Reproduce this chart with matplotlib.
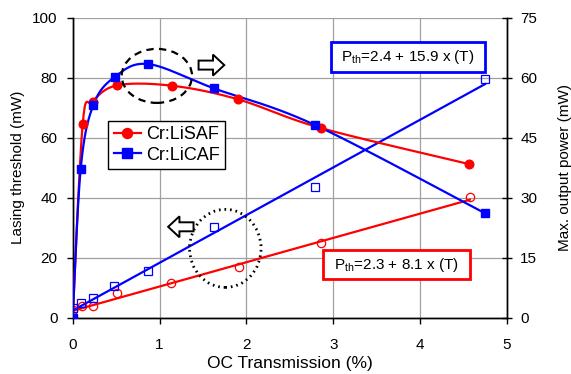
import numpy as np
import matplotlib
matplotlib.use("Agg")
import matplotlib.pyplot as plt
from matplotlib.patches import Ellipse, Rectangle, FancyArrow

plt.rcParams['font.family'] = ['Liberation Sans', 'DejaVu Sans']
plt.rcParams['mathtext.fontset'] = 'custom'
plt.rcParams['mathtext.rm'] = 'Liberation Sans'
plt.rcParams['mathtext.it'] = 'Liberation Sans'

# ---- data ----
# Max output power (right axis, mW)
lisaf_T = [0.0, 0.115, 0.23, 0.514, 1.142, 1.903, 2.86, 4.563]
lisaf_P = [0.0, 48.4, 54.0, 58.1, 58.0, 54.6, 47.4, 38.4]
licaf_T = [0.0, 0.092, 0.238, 0.488, 0.872, 1.63, 2.787, 4.747]
licaf_P = [0.0, 37.2, 53.2, 60.25, 63.4, 57.3, 48.2, 26.1]
# Lasing threshold (left axis, mW)
lisaf_thT = [0.0, 0.104, 0.23, 0.514, 1.134, 1.91, 2.86, 4.571]
lisaf_th = [2.5, 3.9, 4.0, 8.1, 11.5, 17.0, 24.8, 40.3]
licaf_thT = [0.0, 0.092, 0.238, 0.48, 0.872, 1.63, 2.787, 4.747]
licaf_th = [3.3, 5.0, 6.5, 10.6, 15.6, 30.1, 43.7, 79.6]
# linear fit coefficients (intercept, slope) as annotated
lisaf_fit = (2.3, 8.1)
licaf_fit = (2.4, 15.9)

RED = '#FF0000'
BLUE = '#0000FF'

fig = plt.figure(figsize=(5.71, 3.74), dpi=100)
ax = fig.add_axes([0.1273, 0.1505, 0.7607, 0.8022])
ax2 = ax.twinx()

ax.set_xlim(0, 5)
ax.set_ylim(0, 100)
ax2.set_ylim(0, 75)
ax.set_xticks(range(6))
ax.set_yticks(range(0, 101, 20))
ax2.set_yticks(range(0, 76, 15))
ax.grid(True, color='#a0a0a0', lw=0.9)
ax.set_axisbelow(True)

for a in (ax, ax2):
    for s in a.spines.values():
        s.set_linewidth(1.0)
    a.tick_params(labelsize=11, width=1.0)
ax2.spines['top'].set_visible(False)
ax.spines['top'].set_visible(False)
ax.tick_params(axis='y', length=4, pad=7)
ax.tick_params(axis='x', length=4.5, pad=10)
ax2.tick_params(axis='y', direction='inout', length=7, pad=6)
ax.set_xlabel('OC Transmission (%)', fontsize=12.5, labelpad=3)
ax.set_ylabel('Lasing threshold (mW)', fontsize=11, labelpad=5)
ax2.set_ylabel('Max. output power (mW)', fontsize=11, labelpad=15)

# threshold data + linear fits (left axis)
for T, th, fit, T_end, col, mk, ms in [
        (lisaf_thT, lisaf_th, lisaf_fit, lisaf_thT[-1], RED, 'o', 6),
        (licaf_thT, licaf_th, licaf_fit, licaf_thT[-1], BLUE, 's', 5.4)]:
    xs = np.array([0.0, T_end])
    ax.plot(xs, fit[0] + fit[1] * xs, color=col, lw=1.6, zorder=3)
    ax.plot(T, th, ls='none', marker=mk, ms=ms, mfc='none', mec=col, mew=0.9, zorder=4)


def excel_smooth(a, xs, ys, n=30):
    pts = a.transData.transform(np.column_stack([xs, ys]))
    P = np.vstack([pts[0], pts, pts[-1]])
    out = []
    for i in range(1, len(P) - 2):
        p0, p1, p2, p3 = P[i - 1], P[i], P[i + 1], P[i + 2]
        c1 = p1 + (p2 - p0) / 6.0
        c2 = p2 - (p3 - p1) / 6.0
        t = np.linspace(0, 1, n)[:, None]
        seg = ((1 - t) ** 3) * p1 + 3 * ((1 - t) ** 2) * t * c1 + 3 * (1 - t) * t ** 2 * c2 + t ** 3 * p2
        out.append(seg if i == 1 else seg[1:])
    seg = np.vstack(out)
    return a.transData.inverted().transform(seg)

fig.canvas.draw()
for T, P, col, mk, ms, lab in [(lisaf_T, lisaf_P, RED, 'o', 6.2, 'Cr:LiSAF'),
                               (licaf_T, licaf_P, BLUE, 's', 6.0, 'Cr:LiCAF')]:
    c = excel_smooth(ax2, T, P)
    ax2.plot(c[:, 0], c[:, 1], color=col, lw=1.6, zorder=3)
    ax2.plot(T, P, ls='none', marker=mk, ms=ms, color=col, zorder=4)
    ax2.plot([], [], color=col, lw=1.6, marker=mk, ms=ms + 1, label=lab)

leg = ax2.legend(loc='upper left', bbox_to_anchor=(0.082, 0.657), fontsize=13,
                 frameon=True, fancybox=False, edgecolor='black', framealpha=1,
                 handlelength=1.5, borderpad=0.3, labelspacing=0.2, handletextpad=0.3,
                 borderaxespad=0)
leg.get_frame().set_linewidth(1.0)

T1 = ax.transData
# dashed ellipse + right arrow
ax2.add_patch(Ellipse((0.969, 80.6), 0.81, 18, fill=False, ec='black', lw=1.6,
                      ls=(0, (3.3, 2.4)), transform=T1, zorder=5))
ax2.add_patch(FancyArrow(1.449, 84.2, 0.296, 0, width=3.0, head_width=7.0,
                         head_length=0.13, length_includes_head=True,
                         fc='white', ec='black', lw=1.4, transform=T1, zorder=5))
# dotted ellipse + left arrow
ax2.add_patch(Ellipse((1.757, 23.1), 0.823, 26, fill=False, ec='black', lw=2.0,
                      ls=(0, (0.6, 1.4)), transform=T1, zorder=5))
ax2.add_patch(FancyArrow(1.391, 30.3, -0.292, 0, width=3.0, head_width=7.0,
                         head_length=0.13, length_includes_head=True,
                         fc='white', ec='black', lw=1.4, transform=T1, zorder=5))

# annotation boxes
ax2.add_patch(Rectangle((2.968, 82.0), 4.747 - 2.968, 10.0, fill=True, fc='white',
                        ec=BLUE, lw=2.0, zorder=6, clip_on=False, transform=T1))
ax2.text(3.857, 86.8, r'P$_{\mathrm{th}}$=2.4 + 15.9 x (T)', ha='center', va='center',
         fontsize=11, zorder=7, transform=T1)
ax2.add_patch(Rectangle((2.879, 12.8), 4.571 - 2.879, 9.8, fill=True, fc='white',
                        ec=RED, lw=2.0, zorder=6, clip_on=False, transform=T1))
ax2.text(3.725, 17.5, r'P$_{\mathrm{th}}$=2.3 + 8.1 x (T)', ha='center', va='center',
         fontsize=11, zorder=7, transform=T1)

fig.savefig('out.png', dpi=100)
